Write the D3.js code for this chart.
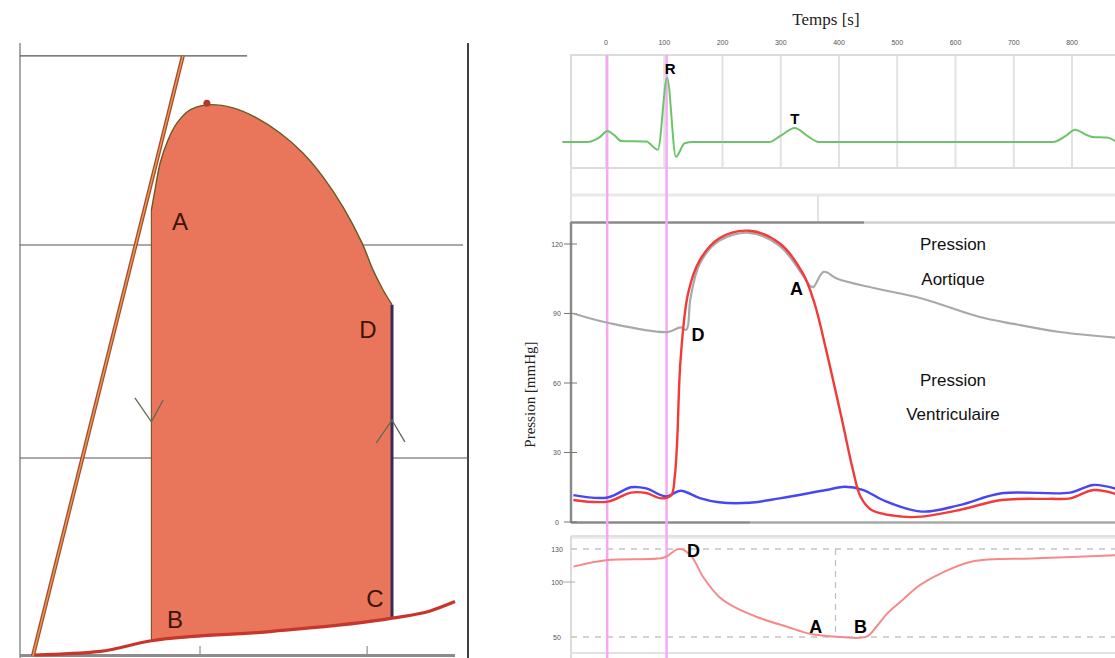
<!DOCTYPE html>
<html>
<head>
<meta charset="utf-8">
<script src="https://cdn.jsdelivr.net/npm/d3@7"></script>
<style>
  body { margin: 0; background: #fff; }
  svg { display: block; }
</style>
</head>
<body>
<div id="chart"></div>
<script>
// ---------- Left: pressure-volume loop (volume in ml, pressure in mmHg) ----------
const loopLeftEdge = [[43.8, 7.1], [43.8, 108.2]];
const loopTop = [
  [43.8, 108.2], [45, 112.9], [46.7, 119.2], [49.3, 124.6], [52.3, 128.6], [56.7, 131.7],
  [62.3, 132.9], [71, 132.2], [79, 129.8], [86.7, 126.3], [94.3, 121.6], [101, 116],
  [107.7, 108.9], [114, 100.5], [117.7, 94.1], [121, 89.5], [124, 86]
];
const loopRightEdge = [[124, 86], [124, 12.4]];
const edpvr = [[5, 3.75], [26.7, 4.6], [43.8, 7.1], [82.3, 9.2], [124, 12.4], [136.7, 14.1], [145, 16.3]];
const espvr = [[4.3, 3.5], [54.3, 144.4]];
const pvGridLines = [{ p: 144.4, v1: 0, v2: 75.7 }, { p: 100, v1: 0, v2: 147.7 }, { p: 50, v1: 0, v2: 149.3 }];
const pvVolTicks = [60, 115.7];
const pvLabels = [
  { t: "A", v: 53.3, p: 103.5 }, { t: "D", v: 116, p: 78.2 },
  { t: "B", v: 51.7, p: 10 }, { t: "C", v: 118.3, p: 15 }
];
const pvArrows = [
  [[38.3, 64.1], [43.8, 58.5], [47.7, 63.6]],
  [[118.7, 53.5], [124, 58.9], [128.3, 53.8]]
];
const pvTopDot = [62.3, 133.3];

// ---------- Right: Wiggers diagram (time in ms) ----------
const timeTicks = [0, 100, 200, 300, 400, 500, 600, 700, 800];
const markerTimes = [2, 104];

const ecgTime = [-75, -33, -10, 2, 15, 26, 69, 89, 105, 120, 135, 150, 280, 300, 324, 345, 365, 767, 790, 805, 825, 835, 860, 882];
const ecgAmp  = [0, 0, 0.08, 0.17, 0.1, 0.015, 0.008, -0.12, 1.0, -0.23, -0.02, 0, 0, 0.1, 0.22, 0.1, 0, 0, 0.1, 0.19, 0.11, 0.08, 0.07, -0.03];

const aortaTime = [-56, 3, 105, 128, 138, 145, 161, 194, 246, 298, 338, 351, 356, 374, 397, 460, 542, 640, 700, 779, 882];
const aortaP    = [90, 86, 82, 84, 83, 96.5, 111.5, 121.4, 124.8, 119.2, 106.5, 101.8, 101.4, 108, 105, 101, 96.5, 88.6, 85.5, 82, 79.4];

const ventTime = [-56, 3, 43, 69, 95, 112, 118, 122, 128, 141, 161, 194, 246, 298, 338, 358, 378, 404, 424, 437, 456, 509, 542, 607, 679, 760, 797, 837, 882];
const ventP    = [9.5, 8.8, 12.7, 12.5, 10.2, 11.6, 19.6, 34, 70, 98.7, 113, 122.4, 125.7, 120.3, 107.3, 94.4, 74.2, 45.4, 22.4, 10.9, 5.2, 2.3, 2.3, 5.2, 9.5, 10, 10.2, 13.8, 11.6];

const atriumTime = [-56, 3, 43, 69, 103, 128, 161, 194, 246, 298, 378, 410, 442, 475, 542, 607, 679, 797, 837, 882];
const atriumP    = [11.6, 10.6, 15, 14.5, 11, 13.5, 10.3, 8.5, 8.3, 10.2, 13.8, 15.2, 13.8, 9.5, 4.5, 7.3, 12.4, 12.7, 16, 13.8];

const volTime = [-56, 3, 95, 105, 122, 131, 147, 168, 194, 220, 259, 312, 352, 397, 447, 465, 483, 510, 535, 575, 627, 739, 882];
const volV    = [114, 120, 121.5, 123.5, 129.7, 129.7, 123, 103.6, 86.6, 77.3, 68.2, 59.1, 52.7, 50.3, 50.3, 60, 71.5, 84, 95.7, 107.8, 118.5, 121.5, 124.5];

const pressureTicks = [0, 30, 60, 90, 120];
const volumeTicks = [50, 100, 130];
const volumeRefLines = [50, 130];
const volumeRefTime = 394;

const svg = d3.select("#chart").append("svg").attr("width", 1115).attr("height", 658);

// ======================= LEFT PANEL =======================
const pvX = d3.scaleLinear().domain([0, 150]).range([20, 470]);
const pvY = d3.scaleLinear().domain([0, 100]).range([671, 245]);
const pvLine = d3.line().x(d => pvX(d[0])).y(d => pvY(d[1]));
const pvSmooth = d3.line().x(d => pvX(d[0])).y(d => pvY(d[1])).curve(d3.curveCatmullRom.alpha(0.5));
const pvMono = d3.line().x(d => pvX(d[0])).y(d => pvY(d[1])).curve(d3.curveMonotoneX);

const left = svg.append("g");

// axes frame
left.append("line").attr("x1", 20).attr("x2", 20).attr("y1", 43).attr("y2", 658)
  .attr("stroke", "#707070").attr("stroke-width", 1.2);
left.append("line").attr("x1", 468).attr("x2", 468).attr("y1", 43).attr("y2", 658)
  .attr("stroke", "#111").attr("stroke-width", 1.6);

left.selectAll("line.pvgrid").data(pvGridLines).join("line").attr("class", "pvgrid")
  .attr("x1", d => pvX(d.v1)).attr("x2", d => pvX(d.v2))
  .attr("y1", d => pvY(d.p)).attr("y2", d => pvY(d.p))
  .attr("stroke", "#555").attr("stroke-width", 1.1);

// bottom axis (thick grey)
left.append("line").attr("x1", 20).attr("x2", pvX(145)).attr("y1", 655.5).attr("y2", 655.5)
  .attr("stroke", "#8c8c8c").attr("stroke-width", 3);
left.selectAll("line.vtick").data(pvVolTicks).join("line").attr("class", "vtick")
  .attr("x1", d => pvX(d)).attr("x2", d => pvX(d)).attr("y1", 646).attr("y2", 654)
  .attr("stroke", "#777").attr("stroke-width", 1);

// loop fill: left edge, smooth top, right edge, then back along the ED curve
const edSeg = edpvr.filter(d => d[0] >= 43.8 && d[0] <= 124);
const fillPath = pvLine(loopLeftEdge) +
  pvSmooth(loopTop).replace(/^M/, "L") +
  pvLine(loopRightEdge).replace(/^M/, "L") +
  pvMono(edSeg.slice().reverse()).replace(/^M/, "L") + "Z";
left.append("path").attr("d", fillPath).attr("fill", "#e9765b").attr("stroke", "none");

// loop outlines
left.append("path").attr("d", pvLine(loopLeftEdge)).attr("stroke", "#7a5a35").attr("stroke-width", 1.2).attr("fill", "none");
left.append("path").attr("d", pvSmooth(loopTop)).attr("stroke", "#6a5a25").attr("stroke-width", 1.4).attr("fill", "none");
left.append("path").attr("d", pvLine(loopRightEdge)).attr("stroke", "#3a2a55").attr("stroke-width", 3).attr("fill", "none");
left.append("circle").attr("cx", pvX(pvTopDot[0])).attr("cy", pvY(pvTopDot[1])).attr("r", 3.5).attr("fill", "#b03a2a");

// ESPVR (double-tone line)
left.append("path").attr("d", pvLine(espvr)).attr("stroke", "#a84a2c").attr("stroke-width", 4).attr("fill", "none");
left.append("path").attr("d", pvLine(espvr)).attr("stroke", "#eaa055").attr("stroke-width", 1.4).attr("fill", "none");

// EDPVR
left.append("path").attr("d", pvMono(edpvr))
  .attr("stroke", "#c8352a").attr("stroke-width", 3.2).attr("fill", "none");

// direction chevrons
left.selectAll("path.chev").data(pvArrows).join("path").attr("class", "chev")
  .attr("d", pvLine).attr("stroke", "#5f6b55").attr("stroke-width", 1.3).attr("fill", "none");

left.selectAll("text.pvlab").data(pvLabels).join("text").attr("class", "pvlab")
  .attr("x", d => pvX(d.v)).attr("y", d => pvY(d.p))
  .attr("text-anchor", "middle").attr("font-family", "Liberation Sans, Arial, sans-serif")
  .attr("font-size", 24).attr("fill", "#3d140a").text(d => d.t);

// ======================= RIGHT PANEL =======================
const tX = d3.scaleLinear().domain([0, 800]).range([606, 1072]);
const ecgY = d3.scaleLinear().domain([0, 1]).range([142, 78]);
const pY = d3.scaleLinear().domain([0, 120]).range([522, 244]);
const vY = d3.scaleLinear().domain([50, 130]).range([637, 549]);

const right = svg.append("g");
const xR = 1120;
const sans = "Liberation Sans, Arial, sans-serif";
const serif = "Liberation Serif, Times New Roman, serif";

right.append("text").attr("x", 826).attr("y", 25).attr("text-anchor", "middle")
  .attr("font-family", serif).attr("font-size", 17).attr("fill", "#222")
  .text("Temps [s]");

right.selectAll("text.tt").data(timeTicks).join("text").attr("class", "tt")
  .attr("x", d => tX(d)).attr("y", 45).attr("text-anchor", "middle")
  .attr("font-family", sans).attr("font-size", 7).attr("fill", "#555")
  .text(d => d);

// ECG panel frame + grid
right.selectAll("line.tgrid").data(timeTicks).join("line").attr("class", "tgrid")
  .attr("x1", d => tX(d)).attr("x2", d => tX(d)).attr("y1", 55).attr("y2", 168)
  .attr("stroke", "#e2e2e2").attr("stroke-width", 2);
right.append("rect").attr("x", 571).attr("y", 55).attr("width", xR - 571).attr("height", 113)
  .attr("fill", "none").attr("stroke", "#dcdcdc").attr("stroke-width", 2);
right.append("line").attr("x1", 571).attr("x2", xR).attr("y1", 195).attr("y2", 195)
  .attr("stroke", "#e8e8e8").attr("stroke-width", 3);
right.append("line").attr("x1", 571).attr("x2", 571).attr("y1", 168).attr("y2", 222)
  .attr("stroke", "#e0e0e0").attr("stroke-width", 2);
right.append("line").attr("x1", 818).attr("x2", 818).attr("y1", 196).attr("y2", 222)
  .attr("stroke", "#e2e2e2").attr("stroke-width", 2);

// pressure panel frame
right.append("line").attr("x1", 571).attr("x2", 864).attr("y1", 222.5).attr("y2", 222.5)
  .attr("stroke", "#8a8a8a").attr("stroke-width", 2.5);
right.append("line").attr("x1", 864).attr("x2", xR).attr("y1", 222.5).attr("y2", 222.5)
  .attr("stroke", "#cfcfcf").attr("stroke-width", 2.5);
right.append("line").attr("x1", 571).attr("x2", 571).attr("y1", 222).attr("y2", 523)
  .attr("stroke", "#8a8a8a").attr("stroke-width", 2.5);
right.append("line").attr("x1", 571).attr("x2", 750).attr("y1", 522.5).attr("y2", 522.5)
  .attr("stroke", "#8a8a8a").attr("stroke-width", 2.5);
right.append("line").attr("x1", 750).attr("x2", xR).attr("y1", 522.5).attr("y2", 522.5)
  .attr("stroke", "#a8a8a8").attr("stroke-width", 2.5);
right.append("line").attr("x1", 571).attr("x2", xR).attr("y1", 538).attr("y2", 538)
  .attr("stroke", "#ececec").attr("stroke-width", 2);

// pressure y axis ticks
right.selectAll("line.pt").data(pressureTicks).join("line").attr("class", "pt")
  .attr("x1", 564).attr("x2", 577).attr("y1", d => pY(d)).attr("y2", d => pY(d))
  .attr("stroke", "#777").attr("stroke-width", 1);
right.selectAll("text.pt").data(pressureTicks).join("text").attr("class", "pt")
  .attr("x", 557).attr("y", d => pY(d) + 2.5).attr("text-anchor", "middle")
  .attr("font-family", sans).attr("font-size", 7).attr("fill", "#555")
  .text(d => d);
right.append("text").attr("transform", `translate(535, ${pY(55)}) rotate(-90)`).attr("text-anchor", "middle")
  .attr("font-family", serif).attr("font-size", 15).attr("fill", "#222")
  .text("Pression [mmHg]");

// volume panel frame
right.append("line").attr("x1", 571).attr("x2", xR).attr("y1", 536).attr("y2", 536)
  .attr("stroke", "#e0e0e0").attr("stroke-width", 2);
right.append("line").attr("x1", 571).attr("x2", 571).attr("y1", 536).attr("y2", 658)
  .attr("stroke", "#dcdcdc").attr("stroke-width", 2);
right.append("line").attr("x1", 571).attr("x2", xR).attr("y1", 653).attr("y2", 653)
  .attr("stroke", "#e2e2e2").attr("stroke-width", 2);
right.selectAll("line.vref").data(volumeRefLines).join("line").attr("class", "vref")
  .attr("x1", 571).attr("x2", xR).attr("y1", d => vY(d)).attr("y2", d => vY(d))
  .attr("stroke", "#c4c4c4").attr("stroke-width", 1.5).attr("stroke-dasharray", "6,6");
right.append("line").attr("x1", tX(volumeRefTime)).attr("x2", tX(volumeRefTime))
  .attr("y1", vY(130)).attr("y2", vY(50))
  .attr("stroke", "#bdbdbd").attr("stroke-width", 1.2).attr("stroke-dasharray", "6,5");
right.selectAll("line.vt").data(volumeTicks.filter(d => d === 100)).join("line").attr("class", "vt")
  .attr("x1", 563).attr("x2", 575).attr("y1", d => vY(d)).attr("y2", d => vY(d))
  .attr("stroke", "#aaa").attr("stroke-width", 1);
right.selectAll("text.vt").data(volumeTicks).join("text").attr("class", "vt")
  .attr("x", 557).attr("y", d => vY(d) + 2.5).attr("text-anchor", "middle")
  .attr("font-family", sans).attr("font-size", 7).attr("fill", "#555")
  .text(d => d);

// pink marker lines
right.selectAll("line.mk").data(markerTimes).join("line").attr("class", "mk")
  .attr("x1", d => tX(d)).attr("x2", d => tX(d)).attr("y1", 55).attr("y2", 658)
  .attr("stroke", "#f6a8f3").attr("stroke-width", 2.5);

// curves
const zip = (a, b) => a.map((d, i) => [d, b[i]]);
right.append("clipPath").attr("id", "rclip").append("rect")
  .attr("x", 560).attr("y", 0).attr("width", 555).attr("height", 658);

const ecgLine = d3.line().x(d => tX(d[0])).y(d => ecgY(d[1])).curve(d3.curveMonotoneX);
right.append("path").attr("d", ecgLine(zip(ecgTime, ecgAmp))).attr("clip-path", "url(#rclip)")
  .attr("fill", "none").attr("stroke", "#6cc46a").attr("stroke-width", 2);

const pLine = d3.line().x(d => tX(d[0])).y(d => pY(d[1])).curve(d3.curveCatmullRom.alpha(0.5));
right.append("path").attr("d", pLine(zip(aortaTime, aortaP))).attr("clip-path", "url(#rclip)")
  .attr("fill", "none").attr("stroke", "#a9a9a9").attr("stroke-width", 2.2);
right.append("path").attr("d", pLine(zip(atriumTime, atriumP))).attr("clip-path", "url(#rclip)")
  .attr("fill", "none").attr("stroke", "#4646f2").attr("stroke-width", 2.4);
right.append("path").attr("d", pLine(zip(ventTime, ventP))).attr("clip-path", "url(#rclip)")
  .attr("fill", "none").attr("stroke", "#f23a3a").attr("stroke-width", 2.4);

const vLine = d3.line().x(d => tX(d[0])).y(d => vY(d[1])).curve(d3.curveCatmullRom.alpha(0.5));
right.append("path").attr("d", vLine(zip(volTime, volV))).attr("clip-path", "url(#rclip)")
  .attr("fill", "none").attr("stroke", "#f58a8a").attr("stroke-width", 2);

// annotations
const bold = [
  { t: "R", x: tX(110), y: 74, s: 15 }, { t: "T", x: tX(324), y: 124, s: 15 },
  { t: "A", x: tX(327), y: pY(98), s: 18 }, { t: "D", x: tX(158), y: pY(78), s: 18 },
  { t: "D", x: tX(150), y: vY(122.5), s: 18 }, { t: "A", x: tX(360), y: vY(54), s: 18 }, { t: "B", x: tX(437), y: vY(54), s: 18 }
];
right.selectAll("text.bl").data(bold).join("text").attr("class", "bl")
  .attr("x", d => d.x).attr("y", d => d.y).attr("text-anchor", "middle")
  .attr("font-family", sans).attr("font-weight", "bold").attr("font-size", d => d.s)
  .attr("fill", "#000").text(d => d.t);

const captions = [
  { t: "Pression", y: pY(117.5) }, { t: "Aortique", y: pY(102.5) },
  { t: "Pression", y: pY(58.5) }, { t: "Ventriculaire", y: pY(44) }
];
right.selectAll("text.cap").data(captions).join("text").attr("class", "cap")
  .attr("x", 953).attr("y", d => d.y).attr("text-anchor", "middle")
  .attr("font-family", sans).attr("font-size", 17).attr("fill", "#111").text(d => d.t);
</script>
</body>
</html>
